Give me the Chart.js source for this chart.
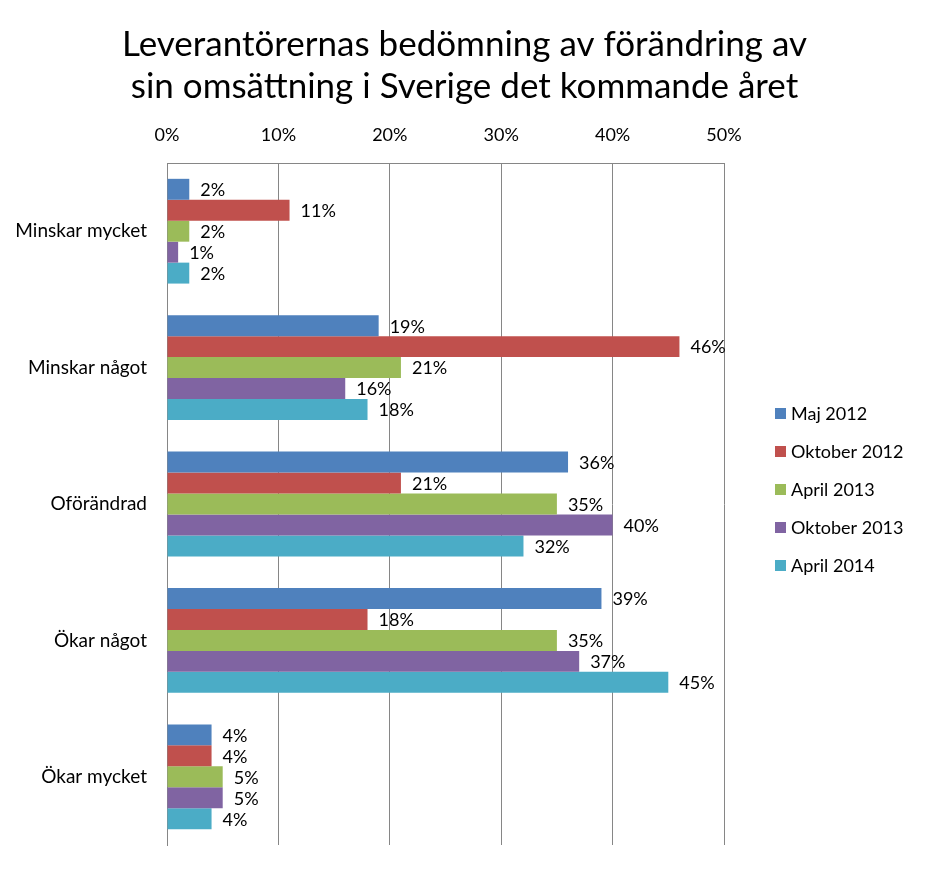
<!DOCTYPE html>
<html>
  <head>
    <script src="https://cdn.jsdelivr.net/npm/chart.js@4/dist/chart.umd.min.js"></script>
    <style>
      body { margin: 0; background: #fff; }
    </style>
  </head>

  <body>
    <div style="width: 929px; height: 869px">
      <canvas id="graph"></canvas>
    </div>
    <script>
      const categories = ['Minskar mycket', 'Minskar något', 'Oförändrad', 'Ökar något', 'Ökar mycket'];
      const seriesNames = ['Maj 2012', 'Oktober 2012', 'April 2013', 'Oktober 2013', 'April 2014'];
      const maj2012 = [2, 19, 36, 39, 4];
      const okt2012 = [11, 46, 21, 18, 4];
      const apr2013 = [2, 21, 35, 35, 5];
      const okt2013 = [1, 16, 40, 37, 5];
      const apr2014 = [2, 18, 32, 45, 4];
      const colors = ['#4F81BD', '#C0504D', '#9BBB59', '#8064A2', '#4BACC6'];

      const FONT = 'Lato, "Liberation Sans", sans-serif';
      const gray = '#868686';

      // value labels at the end of each bar
      const barLabels = {
        id: 'barLabels',
        afterDatasetsDraw(chart) {
          const ctx = chart.ctx;
          ctx.save();
          ctx.font = '18px ' + FONT;
          ctx.fillStyle = '#000';
          ctx.textBaseline = 'middle';
          ctx.textAlign = 'left';
          chart.data.datasets.forEach((ds, i) => {
            chart.getDatasetMeta(i).data.forEach((bar, j) => {
              ctx.fillText(ds.data[j] + '%', bar.x + 11, bar.y + 1);
            });
          });
          ctx.restore();
        },
      };

      // legend on the right, drawn by hand so it sits where the original has it
      const sideLegend = {
        id: 'sideLegend',
        afterDraw(chart) {
          const ctx = chart.ctx;
          ctx.save();
          ctx.font = '18px ' + FONT;
          ctx.textBaseline = 'middle';
          ctx.textAlign = 'left';
          seriesNames.forEach((name, i) => {
            const y = 414 + i * 38;
            ctx.fillStyle = colors[i];
            ctx.fillRect(775, y - 6, 11, 11);
            ctx.fillStyle = '#000';
            ctx.fillText(name, 791, y);
          });
          ctx.restore();
        },
      };

      const series = [maj2012, okt2012, apr2013, okt2013, apr2014];

      new Chart(document.getElementById('graph'), {
        type: 'bar',
        plugins: [barLabels, sideLegend],
        data: {
          labels: categories,
          datasets: series.map((d, i) => ({
            label: seriesNames[i],
            data: d,
            backgroundColor: colors[i],
            barPercentage: 1,
            categoryPercentage: 0.768,
          })),
        },
        options: {
          indexAxis: 'y',
          responsive: true,
          maintainAspectRatio: false,
          animation: false,
          layout: {
            padding: { left: 0, right: 0, top: 0, bottom: 24 },
          },
          scales: {
            x: {
              position: 'top',
              min: 0,
              max: 50,
              ticks: {
                stepSize: 10,
                padding: 17,
                color: '#000',
                font: { size: 18, family: FONT },
                callback: (v) => v + '%',
              },
              grid: { color: gray, drawTicks: false },
              border: { color: gray },
              afterFit: (scale) => {
                scale.height = 48;
              },
            },
            y: {
              ticks: {
                padding: 20,
                color: '#000',
                font: { size: 19, family: FONT },
              },
              grid: { display: false, drawTicks: false },
              border: { color: gray },
              afterFit: (scale) => {
                scale.width = 167;
                // labels sit mid-band, no extra room needed above/below
                scale.paddingTop = 0;
                scale.paddingBottom = 0;
              },
            },
            // empty axis on the right that keeps space free for the legend
            side: {
              type: 'category',
              position: 'right',
              ticks: { display: false },
              grid: { display: false, drawTicks: false },
              border: { display: false },
              afterFit: (scale) => {
                scale.width = 205;
                scale.paddingTop = 0;
                scale.paddingBottom = 0;
              },
            },
          },
          plugins: {
            legend: { display: false },
            tooltip: { enabled: false },
            title: {
              display: true,
              text: ['Leverantörernas bedömning av förändring av', 'sin omsättning i Sverige det kommande året'],
              color: '#000',
              font: { size: 35, weight: 'normal', family: FONT },
              lineHeight: 1.15,
              padding: { top: 24, bottom: 7 },
            },
          },
        },
      });
    </script>
  </body>
</html>
